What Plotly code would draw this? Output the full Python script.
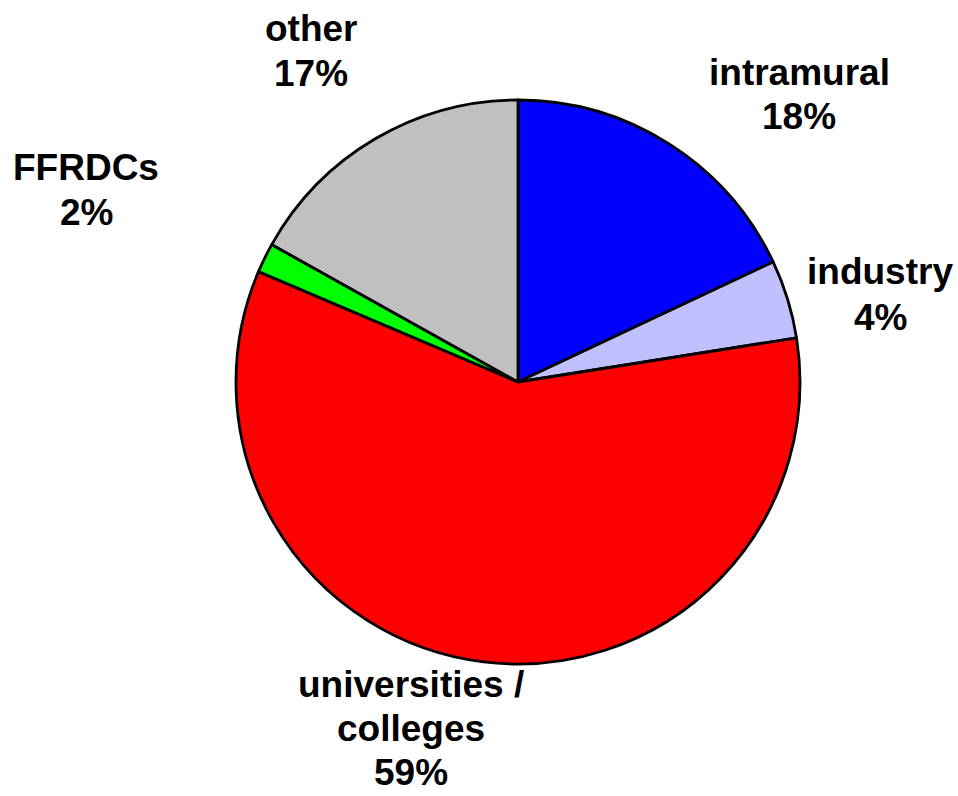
import plotly.graph_objects as go

W, H = 958, 796

categories = ["intramural", "industry", "universities / colleges", "FFRDCs", "other"]
values = [18.0, 4.5, 58.9, 1.7, 16.9]
label_lines = [["intramural", "18%"], ["industry", "4%"],
               ["universities /", "colleges", "59%"], ["FFRDCs", "2%"], ["other", "17%"]]
colors = ["#0000FF", "#C0C0FF", "#FF0000", "#00FF00", "#C0C0C0"]

# label layout in pixels: centre x, baseline of first line, line spacing
label_px = [(799, 86, 44), (880, 285, 46), (411, 698, 44), (86, 181, 45), (311, 42, 45)]

cx, cy, r = 518, 382, 282
FS = 37

fig = go.Figure(go.Pie(
    labels=categories,
    values=values,
    marker=dict(colors=colors, line=dict(color="black", width=2.8)),
    sort=False,
    direction="clockwise",
    rotation=0,
    textinfo="none",
    hoverinfo="label+percent",
    showlegend=False,
    domain=dict(x=[(cx - r) / W, (cx + r) / W], y=[1 - (cy + r) / H, 1 - (cy - r) / H]),
))

for lines, (px, base, sp) in zip(label_lines, label_px):
    for i, line in enumerate(lines):
        py = base + i * sp - 0.36 * FS
        fig.add_annotation(
            x=px / W, y=1 - py / H, xref="paper", yref="paper",
            text="<b>" + line + "</b>", showarrow=False,
            xanchor="center", yanchor="middle", align="center",
            font=dict(family="Liberation Sans, Arial, sans-serif", size=FS, color="black"),
        )

fig.update_layout(
    width=W, height=H,
    margin=dict(l=0, r=0, t=0, b=0),
    paper_bgcolor="white", plot_bgcolor="white",
)

fig.write_html("out.html", post_script="document.body.style.margin='0';",
               config={"displayModeBar": False})
